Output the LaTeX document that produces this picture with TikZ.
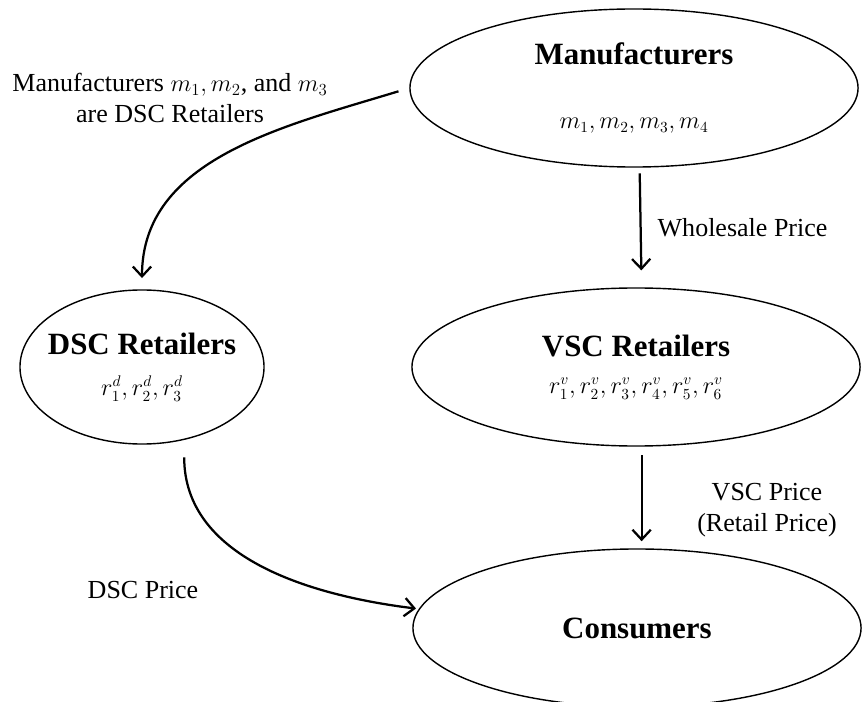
\documentclass[tikz,border=0pt]{standalone}
\usepackage{fontspec}
\setmainfont{Liberation Serif}
\usetikzlibrary{shapes.geometric,arrows.meta}

\newcommand{\titletext}[1]{{\fontsize{22}{26}\selectfont\bfseries #1}}
\newcommand{\mathtext}[1]{{\fontsize{16}{18}\selectfont #1}}

\begin{document}
\begin{tikzpicture}[x=0.025cm,y=-0.025cm,>={Straight Barb[length=7pt,width=13pt]}]

      \useasboundingbox (0,0) rectangle (863,702);

      \begin{scope}[every node/.style={ellipse,draw,line width=1pt,inner sep=0pt,align=center}]
        \node[minimum width=11.2cm,minimum height=3.95cm] (man)  at (634,88)  {\titletext{Manufacturers}\\[34pt]\mathtext{$m_1, m_2, m_3, m_4$}};
        \node[minimum width=6.1cm,minimum height=3.85cm,inner xsep=-7pt] (dsc) at (142,367) {\titletext{DSC Retailers}\\[14pt]\mathtext{$r^d_1, r^d_2, r^d_3$}};
        \node[minimum width=11.2cm,minimum height=3.95cm] (vsc)  at (636,367) {\titletext{VSC Retailers}\\[14pt]\mathtext{$r^v_1, r^v_2, r^v_3, r^v_4, r^v_5, r^v_6$}};
        \node[minimum width=11.2cm,minimum height=3.95cm] (cons) at (637,628) {\titletext{Consumers}};
      \end{scope}

      \begin{scope}[every node/.style={font=\fontsize{18.5}{22}\selectfont,align=center}]
        \node (note) at (170,98) {Manufacturers $m_1, m_2$, and $m_3$\\ are DSC Retailers};

        \begin{scope}[every edge/.style={draw,->,line width=1.6pt}]
          \path ([xshift=4]man.south) edge[shorten <=4pt,shorten >=12pt] node[right=8pt] (wp) {Wholesale Price} ([xshift=4]vsc.north);
          \path ([xshift=4]vsc.south) edge[shorten <=6pt,shorten >=5pt] ([xshift=4]vsc.south |- cons.north);
          \path (man.180) edge[out=197,in=90,shorten <=8pt,shorten >=8pt] (dsc.north);
          \path ([xshift=30]dsc.south) edge[out=-90,in=173,shorten <=9pt,shorten >=2pt] (cons.175);
        \end{scope}
        \node (vp) at (767,510) {VSC Price\\(Retail Price)};
        \node (dp) at (143,590) {DSC Price};
      \end{scope}

    \end{tikzpicture}
\end{document}
